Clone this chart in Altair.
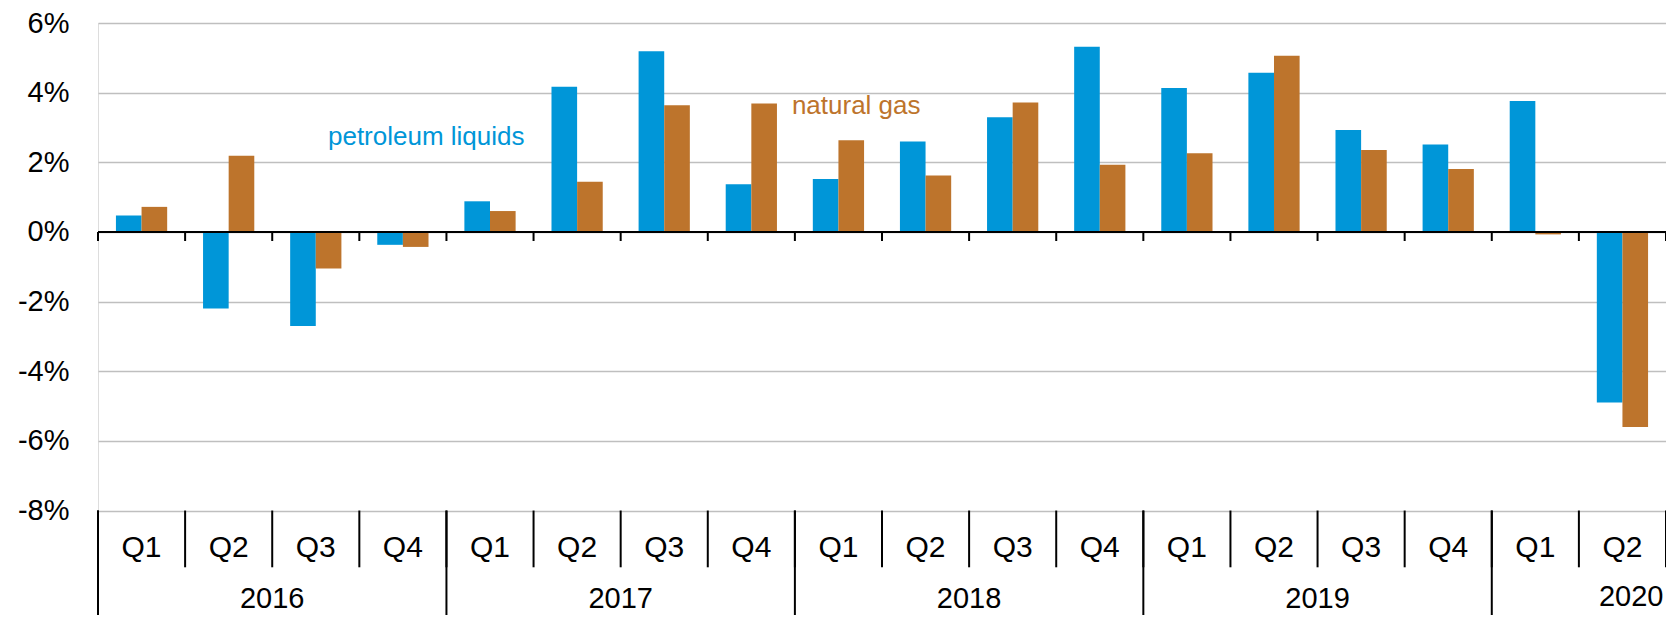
import altair as alt
import pandas as pd

years = ["2016"] * 4 + ["2017"] * 4 + ["2018"] * 4 + ["2019"] * 4 + ["2020"] * 2
quarters = ["Q1", "Q2", "Q3", "Q4"] * 4 + ["Q1", "Q2"]
petroleum_liquids = [0.47, -2.20, -2.70, -0.37, 0.88, 4.17, 5.19, 1.37, 1.52, 2.60,
                     3.29, 5.32, 4.13, 4.57, 2.93, 2.51, 3.76, -4.90]
natural_gas = [0.72, 2.19, -1.05, -0.43, 0.60, 1.44, 3.64, 3.69, 2.63, 1.62,
               3.72, 1.93, 2.26, 5.06, 2.35, 1.81, -0.07, -5.60]
y_ticks = [-8, -6, -4, -2, 0, 2, 4, 6]
series_names = ["petroleum liquids", "natural gas"]
series_colors = ["#0096D8", "#BD742C"]

cats = [f"{y} {q}" for y, q in zip(years, quarters)]

rows = []
for c, y, q, p, g in zip(cats, years, quarters, petroleum_liquids, natural_gas):
    rows.append({"cat": c, "year": y, "q": q, "series": series_names[0], "value": p})
    rows.append({"cat": c, "year": y, "q": q, "series": series_names[1], "value": g})
bars_df = pd.DataFrame(rows)
cat_df = pd.DataFrame({"cat": cats, "year": years, "q": quarters})
year_start_df = cat_df[cat_df["q"] == "Q1"]
year_mid_df = cat_df[(cat_df["q"] == "Q3")]
last_df = cat_df.tail(1)

FONT = "Liberation Sans"

xscale = alt.Scale(domain=cats, paddingInner=0, paddingOuter=0)
yscale = alt.Scale(domain=[-11, 6], nice=False, zero=False)

def X(**kw):
    return alt.X("cat:N", scale=xscale, axis=None, sort=cats, **kw)

bars = alt.Chart(bars_df).mark_bar().encode(
    x=X(),
    xOffset=alt.XOffset("series:N", sort=series_names,
                        scale=alt.Scale(domain=series_names, paddingInner=0, paddingOuter=0.7)),
    y=alt.Y("value:Q", scale=yscale, title=None,
            axis=alt.Axis(values=y_ticks, labelExpr="datum.value + '%'", grid=True,
                          gridColor="#BFBFBF", gridWidth=1.5, domain=False, ticks=False,
                          tickSize=0, labelFontSize=29, labelFont=FONT, labelColor="black",
                          labelPadding=29)),
    color=alt.Color("series:N", scale=alt.Scale(domain=series_names, range=series_colors),
                    legend=None),
)

zero_line = alt.Chart(cat_df.head(1)).mark_rule(color="black", strokeWidth=2).encode(
    y=alt.datum(0, scale=yscale)
)

tick_start = alt.Chart(cat_df).mark_rule(color="black", strokeWidth=2).encode(
    x=X(bandPosition=0), y=alt.datum(0, scale=yscale), y2=alt.datum(-0.26))
tick_end = alt.Chart(last_df).mark_rule(color="black", strokeWidth=2).encode(
    x=X(bandPosition=1), y=alt.datum(0, scale=yscale), y2=alt.datum(-0.26))

qdiv_start = alt.Chart(cat_df).mark_rule(color="black", strokeWidth=2).encode(
    x=X(bandPosition=0), y=alt.datum(-8, scale=yscale), y2=alt.datum(-9.63))
qdiv_end = alt.Chart(last_df).mark_rule(color="black", strokeWidth=2).encode(
    x=X(bandPosition=1), y=alt.datum(-8, scale=yscale), y2=alt.datum(-9.63))
ydiv = alt.Chart(year_start_df).mark_rule(color="black", strokeWidth=2).encode(
    x=X(bandPosition=0), y=alt.datum(-8, scale=yscale), y2=alt.datum(-11))

q_labels = alt.Chart(cat_df).mark_text(font=FONT, fontSize=30, color="black",
                                        baseline="middle", align="center").encode(
    x=X(), y=alt.datum(-9.08, scale=yscale), text="q:N")

year_labels = alt.Chart(year_mid_df).mark_text(font=FONT, fontSize=29, color="black",
                                               baseline="middle", align="center").encode(
    x=X(bandPosition=0), y=alt.datum(-10.54, scale=yscale), text="year:N")
year_label_last = alt.Chart(last_df).mark_text(font=FONT, fontSize=29, color="black",
                                               baseline="middle", align="center").encode(
    x=X(bandPosition=0.6), y=alt.datum(-10.47, scale=yscale), text="year:N")

ann_pl = alt.Chart(cat_df[cat_df["cat"] == "2016 Q3"]).mark_text(
    font=FONT, fontSize=26, color=series_colors[0], align="left", baseline="middle").encode(
    x=X(bandPosition=0.64), y=alt.datum(2.72, scale=yscale), text=alt.value(series_names[0]))
ann_ng = alt.Chart(cat_df[cat_df["cat"] == "2018 Q1"]).mark_text(
    font=FONT, fontSize=26, color=series_colors[1], align="left", baseline="middle", dx=-3).encode(
    x=X(bandPosition=0), y=alt.datum(3.61, scale=yscale), text=alt.value(series_names[1]))

chart = alt.layer(
    bars, zero_line, tick_start, tick_end, qdiv_start, qdiv_end, ydiv,
    q_labels, year_labels, year_label_last, ann_pl, ann_ng
).properties(
    width=1568, height=592,
    autosize=alt.AutoSizeParams(type="none"),
    padding={"left": 90, "top": 15, "right": 0, "bottom": 0},
).configure_view(stroke=None).configure(background="white")

chart.save("out.html", embed_options={"renderer": "svg", "actions": False})
